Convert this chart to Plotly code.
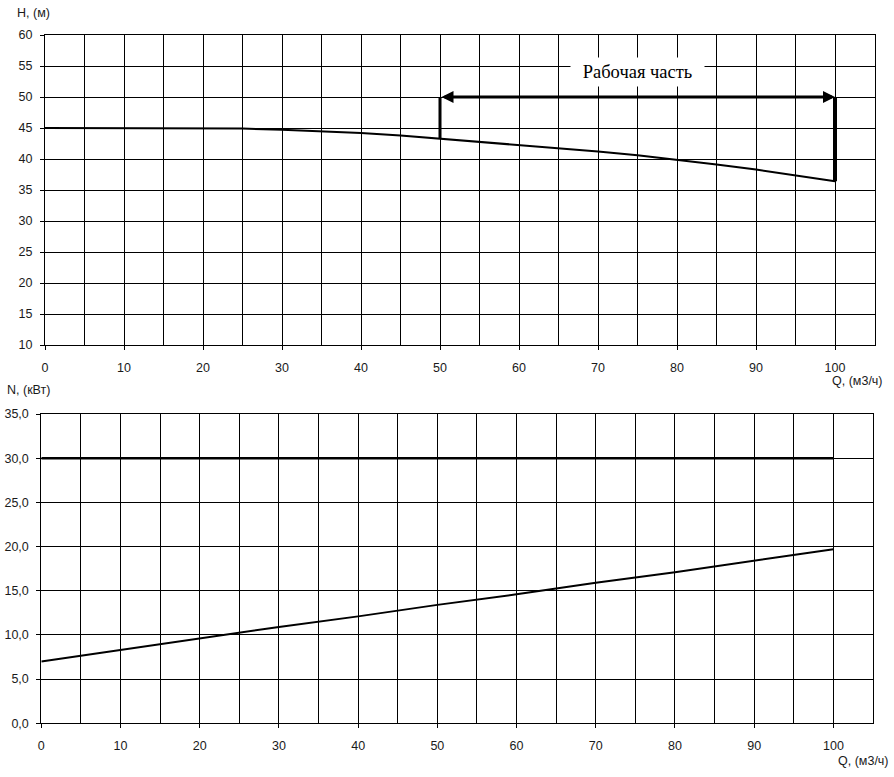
import plotly.graph_objects as go

# ---------------------------------------------------------------------------
# Data
# ---------------------------------------------------------------------------
Q = [0, 5, 10, 15, 20, 25, 30, 35, 40, 45, 50, 55, 60, 65, 70, 75, 80, 85, 90, 95, 100]
H = [45.0, 45.0, 45.0, 45.0, 45.0, 44.9, 44.7, 44.5, 44.2, 43.8, 43.3,
     42.8, 42.3, 41.8, 41.2, 40.6, 39.9, 39.1, 38.3, 37.4, 36.4]

Q_N = [0, 10, 20, 30, 40, 50, 60, 70, 80, 90, 100]
N = [7.0, 8.3, 9.6, 10.9, 12.1, 13.4, 14.6, 15.9, 17.1, 18.4, 19.7]

Q_LIMIT = [0, 100]
N_LIMIT = [30.0, 30.0]

WORK_Q = [50, 100]          # working range
WORK_H_TOP = 50             # level of the range arrow
WORK_LABEL = "Рабочая часть"

H_TICKS = list(range(10, 61, 5))
N_TICKS = list(range(0, 36, 5))
Q_TICKS = list(range(0, 101, 10))

W, HGT = 894, 777
FONT = "Liberation Sans, Arial, sans-serif"
INK = "#000000"
TXT = "#1a1a1a"


def px_x(p):
    return p / W


def px_y(p):
    return 1 - p / HGT


def h_at(q):
    return H[Q.index(q)]


fig = go.Figure()

# Head curve
fig.add_trace(go.Scatter(x=Q, y=H, mode="lines", line=dict(color=INK, width=2),
                         xaxis="x", yaxis="y", showlegend=False, hoverinfo="skip"))

# Working range verticals
for q, w in zip(WORK_Q, [3, 4]):
    fig.add_trace(go.Scatter(x=[q, q], y=[h_at(q), WORK_H_TOP], mode="lines",
                             line=dict(color=INK, width=w), xaxis="x", yaxis="y",
                             showlegend=False, hoverinfo="skip"))

# Power curve and limit line
fig.add_trace(go.Scatter(x=Q_LIMIT, y=N_LIMIT, mode="lines", line=dict(color=INK, width=2.5),
                         xaxis="x2", yaxis="y2", showlegend=False, hoverinfo="skip"))
fig.add_trace(go.Scatter(x=Q_N, y=N, mode="lines", line=dict(color=INK, width=2),
                         xaxis="x2", yaxis="y2", showlegend=False, hoverinfo="skip"))

common_x = dict(
    range=[0, 105], tickvals=Q_TICKS, ticks="outside", ticklen=4, tickcolor=INK,
    ticklabelstandoff=7,
    showgrid=True, gridcolor=INK, gridwidth=1, zeroline=False, automargin=False,
    showline=True, linecolor=INK, linewidth=1, mirror=True,
    minor=dict(dtick=5, tick0=0, showgrid=True, gridcolor=INK, gridwidth=1, ticks=""),
    tickfont=dict(family=FONT, size=12.5, color=TXT),
)
common_y = dict(
    ticks="outside", ticklen=4, tickcolor=INK, automargin=False,
    ticklabelstandoff=5,
    showgrid=True, gridcolor=INK, gridwidth=1, zeroline=False,
    showline=True, linecolor=INK, linewidth=1, mirror=True,
    tickfont=dict(family=FONT, size=12.5, color=TXT),
)

fig.update_layout(
    width=W, height=HGT,
    margin=dict(l=0, r=0, t=0, b=0, autoexpand=False),
    paper_bgcolor="white", plot_bgcolor="white",
    separators=", ",
    xaxis=dict(common_x, domain=[px_x(45), px_x(874.5)], anchor="y"),
    yaxis=dict(common_y, domain=[px_y(345), px_y(35)], anchor="x",
               range=[10, 60], tickvals=H_TICKS),
    xaxis2=dict(common_x, domain=[px_x(41.3), px_x(873)], anchor="y2"),
    yaxis2=dict(common_y, domain=[px_y(723.3), px_y(414)], anchor="x2",
                range=[0, 35], tickvals=N_TICKS, tickformat=".1f"),
)

# Double-headed arrow over the working range
fig.add_annotation(x=WORK_Q[1], y=WORK_H_TOP, ax=WORK_Q[0], ay=WORK_H_TOP,
                   xref="x", yref="y", axref="x", ayref="y", text="",
                   showarrow=True, arrowside="end+start", arrowhead=2,
                   arrowsize=0.8, arrowwidth=3, arrowcolor=INK)
fig.add_annotation(x=sum(WORK_Q) / 2, y=54, xref="x", yref="y", text=WORK_LABEL,
                   showarrow=False, bgcolor="white", width=131, height=26,
                   font=dict(family="Liberation Serif, Times New Roman, serif", size=18.5, color=INK))

# Axis titles
titles = [
    ("H, (м)", 15, 13, "left"),
    ("N, (кВт)", 5, 390, "left"),
    ("Q, (м3/ч)", 885, 381, "right"),
    ("Q, (м3/ч)", 891, 761, "right"),
]
for text, x, y, anchor in titles:
    fig.add_annotation(x=px_x(x), y=px_y(y), xref="paper", yref="paper", text=text,
                       showarrow=False, xanchor=anchor, yanchor="middle",
                       font=dict(family=FONT, size=12.5, color=TXT))

# the page's default body margin would shift the whole figure by 8px
fig.write_html("out.html", config={"displayModeBar": False},
               post_script="document.body.style.margin = '0';")
